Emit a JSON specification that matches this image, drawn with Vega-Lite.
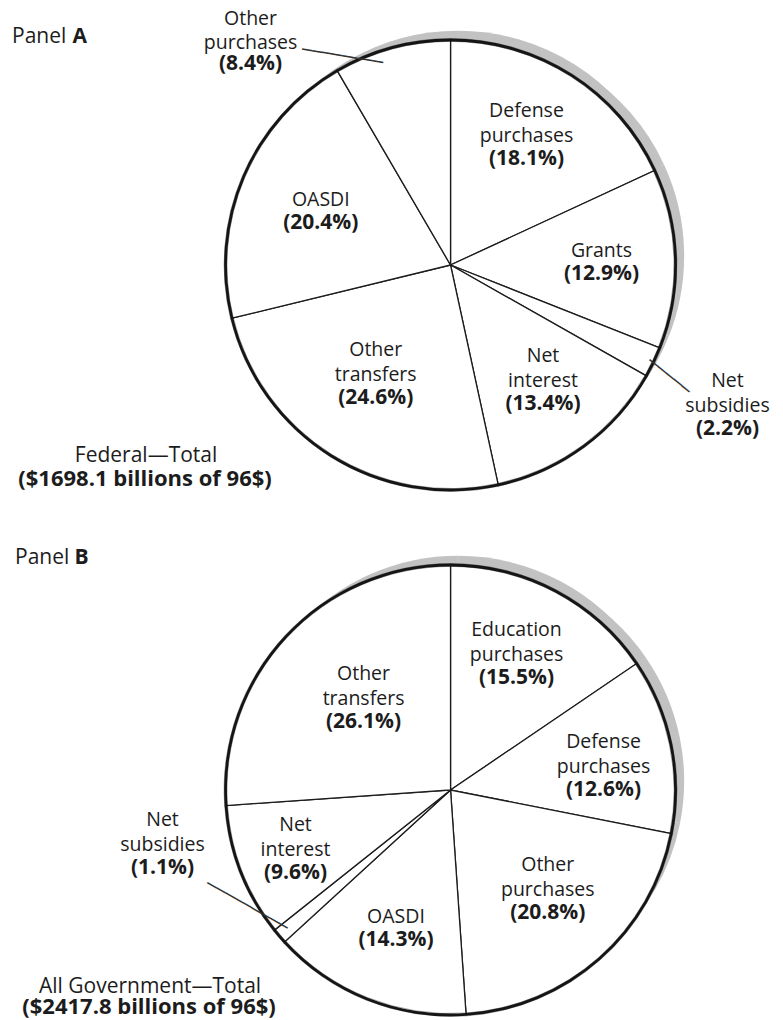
{
  "$schema": "https://vega.github.io/schema/vega-lite/v6.json",
  "width": 783,
  "height": 1020,
  "padding": 0,
  "autosize": {"type": "none"},
  "background": "white",
  "config": {
    "view": {"stroke": null},
    "font": "Open Sans",
    "text": {"font": "Open Sans", "color": "#1c1c1c"}
  },
  "datasets": {
    "outlays": [
      {"panel": "A", "order": 1, "name": "Defense purchases", "pct": 18.1},
      {"panel": "A", "order": 2, "name": "Grants", "pct": 12.9},
      {"panel": "A", "order": 3, "name": "Net subsidies", "pct": 2.2},
      {"panel": "A", "order": 4, "name": "Net interest", "pct": 13.4},
      {"panel": "A", "order": 5, "name": "Other transfers", "pct": 24.6},
      {"panel": "A", "order": 6, "name": "OASDI", "pct": 20.4},
      {"panel": "A", "order": 7, "name": "Other purchases", "pct": 8.4},
      {"panel": "B", "order": 1, "name": "Education purchases", "pct": 15.5},
      {"panel": "B", "order": 2, "name": "Defense purchases", "pct": 12.6},
      {"panel": "B", "order": 3, "name": "Other purchases", "pct": 20.8},
      {"panel": "B", "order": 4, "name": "OASDI", "pct": 14.3},
      {"panel": "B", "order": 5, "name": "Net subsidies", "pct": 1.1},
      {"panel": "B", "order": 6, "name": "Net interest", "pct": 9.6},
      {"panel": "B", "order": 7, "name": "Other transfers", "pct": 26.1}
    ]
  },
  "layer": [
    {
      "data": {"name": "outlays"},
      "transform": [{"filter": "datum.panel === 'A'"}],
      "encoding": {
        "x": {"datum": "pie", "type": "nominal", "scale": {"type": "point", "padding": 0, "align": 0.5754}, "axis": null},
        "y": {"field": "panel", "type": "nominal", "scale": {"type": "point", "padding": 0.47143, "align": 0.53535}, "axis": null},
        "theta": {"field": "pct", "type": "quantitative", "stack": true},
        "order": {"field": "order", "type": "quantitative"}
      },
      "layer": [
        {"mark": {"type": "arc", "radius": 218, "fill": "#c2c2c2", "xOffset": 7.6, "yOffset": -16.3}},
        {"mark": {"type": "arc", "radius": 218, "fill": "#c2c2c2", "xOffset": 15.6, "yOffset": -9}},
        {"mark": {"type": "arc", "radius": 225, "fill": "white", "stroke": "#1c1c1c", "strokeWidth": 1.3}},
        {"mark": {"type": "arc", "outerRadius": 226.4, "innerRadius": 223.6, "fill": "#151515", "stroke": "#151515", "strokeWidth": 0.4}},
        {"mark": {"type": "text", "align": "center", "baseline": "bottom", "fontSize": 19.5, "lineHeight": 25, "lineBreak": " ",
          "dy": {"expr": "indexof(datum.name, ' ') >= 0 ? -25 : 0"},
          "radius": {"expr": "datum.name === 'Grants' ? 151 : datum.name === 'Net interest' ? 156 : 141"},
          "text": {"expr": "datum.name === 'Other purchases' || datum.name === 'Net subsidies' ? '' : datum.name"}}},
        {"mark": {"type": "text", "align": "center", "baseline": "alphabetic", "fontSize": 21, "fontWeight": "bold", "dy": 19,
          "radius": {"expr": "datum.name === 'Grants' ? 151 : datum.name === 'Net interest' ? 156 : 141"},
          "text": {"expr": "datum.name === 'Other purchases' || datum.name === 'Net subsidies' ? '' : '(' + format(datum.pct, '.1f') + '%)'"}}},
        {"mark": {"type": "text", "align": "center", "baseline": "bottom", "fontSize": 19.5, "lineHeight": 24, "lineBreak": " ", "dy": -23,
          "radius": 292.2, "thetaOffset": -0.490,
          "text": {"expr": "datum.name === 'Other purchases' ? datum.name : ''"}}},
        {"mark": {"type": "text", "align": "center", "baseline": "alphabetic", "fontSize": 21, "fontWeight": "bold", "dy": 18,
          "radius": 292.2, "thetaOffset": -0.490,
          "text": {"expr": "datum.name === 'Other purchases' ? '(' + format(datum.pct, '.1f') + '%)' : ''"}}},
        {"mark": {"type": "text", "align": "center", "baseline": "bottom", "fontSize": 19.5, "lineHeight": 25, "lineBreak": " ", "dy": -26,
          "radius": 315.7, "thetaOffset": 0.0548,
          "text": {"expr": "datum.name === 'Net subsidies' ? datum.name : ''"}}},
        {"mark": {"type": "text", "align": "center", "baseline": "alphabetic", "fontSize": 21, "fontWeight": "bold", "dy": 18,
          "radius": 315.7, "thetaOffset": 0.0548,
          "text": {"expr": "datum.name === 'Net subsidies' ? '(' + format(datum.pct, '.1f') + '%)' : ''"}}},
        {"mark": {"type": "text", "align": "center", "baseline": "middle", "font": "DejaVu Sans", "fontSize": 17, "color": "#333333",
          "radius": 234.8, "thetaOffset": -0.2143, "angle": 9.5,
          "text": {"expr": "datum.name === 'Other purchases' ? '────────' : ''"}}},
        {"mark": {"type": "text", "align": "center", "baseline": "middle", "font": "DejaVu Sans", "fontSize": 17, "color": "#333333",
          "radius": 245.3, "thetaOffset": 0.0257, "angle": 38.8,
          "text": {"expr": "datum.name === 'Net subsidies' ? '─────' : ''"}}}
      ]
    },
    {
      "data": {"name": "outlays"},
      "transform": [{"filter": "datum.panel === 'B'"}],
      "encoding": {
        "x": {"datum": "pie", "type": "nominal", "scale": {"type": "point", "padding": 0, "align": 0.5754}, "axis": null},
        "y": {"field": "panel", "type": "nominal", "scale": {"type": "point", "padding": 0.47143, "align": 0.53535}, "axis": null},
        "theta": {"field": "pct", "type": "quantitative", "stack": true},
        "order": {"field": "order", "type": "quantitative"}
      },
      "layer": [
        {"mark": {"type": "arc", "radius": 218, "fill": "#c2c2c2", "xOffset": 7.6, "yOffset": -16.3}},
        {"mark": {"type": "arc", "radius": 218, "fill": "#c2c2c2", "xOffset": 15.6, "yOffset": -9}},
        {"mark": {"type": "arc", "radius": 225, "fill": "white", "stroke": "#1c1c1c", "strokeWidth": 1.3}},
        {"mark": {"type": "arc", "outerRadius": 226.4, "innerRadius": 223.6, "fill": "#151515", "stroke": "#151515", "strokeWidth": 0.4}},
        {"mark": {"type": "text", "align": "center", "baseline": "bottom", "fontSize": 19.5, "lineHeight": 25, "lineBreak": " ",
          "dy": {"expr": "indexof(datum.name, ' ') >= 0 ? -25 : 0"},
          "radius": {"expr": "datum.name === 'Other transfers' ? 119 : datum.name === 'Education purchases' ? 141 : 147"},
          "text": {"expr": "datum.name === 'Defense purchases' || datum.name === 'Net subsidies' || datum.name === 'Net interest' ? '' : datum.name"}}},
        {"mark": {"type": "text", "align": "center", "baseline": "alphabetic", "fontSize": 21, "fontWeight": "bold", "dy": 19,
          "radius": {"expr": "datum.name === 'Other transfers' ? 119 : datum.name === 'Education purchases' ? 141 : 147"},
          "text": {"expr": "datum.name === 'Defense purchases' || datum.name === 'Net subsidies' || datum.name === 'Net interest' ? '' : '(' + format(datum.pct, '.1f') + '%)'"}}},
        {"mark": {"type": "text", "align": "center", "baseline": "bottom", "fontSize": 19.5, "lineHeight": 25, "lineBreak": " ", "dy": -25,
          "radius": 153.6, "thetaOffset": 0.1138,
          "text": {"expr": "datum.name === 'Defense purchases' ? datum.name : ''"}}},
        {"mark": {"type": "text", "align": "center", "baseline": "alphabetic", "fontSize": 21, "fontWeight": "bold", "dy": 19,
          "radius": 153.6, "thetaOffset": 0.1138,
          "text": {"expr": "datum.name === 'Defense purchases' ? '(' + format(datum.pct, '.1f') + '%)' : ''"}}},
        {"mark": {"type": "text", "align": "center", "baseline": "bottom", "fontSize": 19.5, "lineHeight": 25, "lineBreak": " ", "dy": -25,
          "radius": 170, "thetaOffset": -0.0524,
          "text": {"expr": "datum.name === 'Net interest' ? datum.name : ''"}}},
        {"mark": {"type": "text", "align": "center", "baseline": "alphabetic", "fontSize": 21, "fontWeight": "bold", "dy": 19,
          "radius": 170, "thetaOffset": -0.0524,
          "text": {"expr": "datum.name === 'Net interest' ? '(' + format(datum.pct, '.1f') + '%)' : ''"}}},
        {"mark": {"type": "text", "align": "center", "baseline": "bottom", "fontSize": 19.5, "lineHeight": 25, "lineBreak": " ", "dy": -26,
          "radius": 295.6, "thetaOffset": 0.480,
          "text": {"expr": "datum.name === 'Net subsidies' ? datum.name : ''"}}},
        {"mark": {"type": "text", "align": "center", "baseline": "alphabetic", "fontSize": 21, "fontWeight": "bold", "dy": 18,
          "radius": 295.6, "thetaOffset": 0.480,
          "text": {"expr": "datum.name === 'Net subsidies' ? '(' + format(datum.pct, '.1f') + '%)' : ''"}}},
        {"mark": {"type": "text", "align": "center", "baseline": "middle", "font": "DejaVu Sans", "fontSize": 17, "color": "#333333",
          "radius": 234.2, "thetaOffset": 0.1885, "angle": 29.6,
          "text": {"expr": "datum.name === 'Net subsidies' ? '─────────' : ''"}}}
      ]
    },
    {
      "data": {"values": [
        {"panel": "A", "heading": "Panel", "letter": "A", "title": "Federal—Total", "total": "($1698.1 billions of 96$)"}
      ]},
      "encoding": {
        "x": {"datum": "pie", "type": "nominal", "scale": {"type": "point", "padding": 0, "align": 0.5754}, "axis": null},
        "y": {"field": "panel", "type": "nominal", "scale": {"type": "point", "padding": 0.47143, "align": 0.53535}, "axis": null}
      },
      "layer": [
        {"mark": {"type": "text", "align": "left", "baseline": "alphabetic", "fontSize": 21, "dx": -438.5, "dy": -222}, "encoding": {"text": {"field": "heading"}}},
        {"mark": {"type": "text", "align": "left", "baseline": "alphabetic", "fontSize": 21, "fontWeight": "bold", "dx": -378, "dy": -222}, "encoding": {"text": {"field": "letter"}}},
        {"mark": {"type": "text", "align": "center", "baseline": "alphabetic", "fontSize": 21, "dx": -304.5, "dy": 197}, "encoding": {"text": {"field": "title"}}},
        {"mark": {"type": "text", "align": "center", "baseline": "alphabetic", "fontSize": 22, "fontWeight": "bold", "dx": -305.5, "dy": 221}, "encoding": {"text": {"field": "total"}}}
      ]
    },
    {
      "data": {"values": [
        {"panel": "B", "heading": "Panel", "letter": "B", "title": "All Government—Total", "total": "($2417.8 billions of 96$)"}
      ]},
      "encoding": {
        "x": {"datum": "pie", "type": "nominal", "scale": {"type": "point", "padding": 0, "align": 0.5754}, "axis": null},
        "y": {"field": "panel", "type": "nominal", "scale": {"type": "point", "padding": 0.47143, "align": 0.53535}, "axis": null}
      },
      "layer": [
        {"mark": {"type": "text", "align": "left", "baseline": "alphabetic", "fontSize": 21, "dx": -435.5, "dy": -226}, "encoding": {"text": {"field": "heading"}}},
        {"mark": {"type": "text", "align": "left", "baseline": "alphabetic", "fontSize": 21, "fontWeight": "bold", "dx": -376, "dy": -226}, "encoding": {"text": {"field": "letter"}}},
        {"mark": {"type": "text", "align": "center", "baseline": "alphabetic", "fontSize": 21, "dx": -300.5, "dy": 203}, "encoding": {"text": {"field": "title"}}},
        {"mark": {"type": "text", "align": "center", "baseline": "alphabetic", "fontSize": 22, "fontWeight": "bold", "dx": -301.5, "dy": 224}, "encoding": {"text": {"field": "total"}}}
      ]
    }
  ]
}
